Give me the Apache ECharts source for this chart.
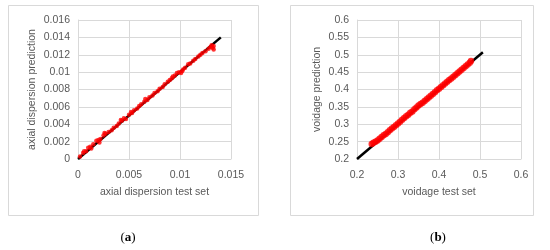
<!DOCTYPE html>
<html>
<head>
<meta charset="utf-8">
<script src="https://cdn.jsdelivr.net/npm/echarts@6/dist/echarts.min.js"></script>
<style>
html, body { margin: 0; padding: 0; background: #fff; }
#chart { width: 550px; height: 250px; }
</style>
</head>
<body>
<div id="chart"></div>
<script>
// panel (a): axial dispersion, test set vs prediction
var axialPoints = [
    [0.0002,0.0003],[0.0005,0.0007],[0.0006,0.0009],[0.0008,0.0009],[0.001,0.0013],[0.0012,0.0014],
    [0.0013,0.0012],[0.0015,0.0017],[0.0018,0.0021],[0.002,0.0022],[0.0021,0.0019],[0.0022,0.0023],
    [0.0025,0.0027],[0.0026,0.003],[0.0027,0.0029],[0.003,0.0031],[0.0033,0.0033],[0.0035,0.0036],
    [0.0038,0.0038],[0.004,0.0041],[0.0042,0.0045],[0.0043,0.0044],[0.0045,0.0047],[0.0047,0.0046],
    [0.005,0.0051],[0.0052,0.0054],[0.0053,0.0053],[0.0055,0.0056],[0.0058,0.0058],[0.006,0.0061],
    [0.0062,0.0063],[0.0065,0.0066],[0.0066,0.0069],[0.0068,0.0068],[0.007,0.0071],[0.0073,0.0073],
    [0.0075,0.0076],[0.0078,0.0078],[0.008,0.0081],[0.0083,0.0083],[0.0085,0.0086],[0.0088,0.0089],
    [0.009,0.0091],[0.0092,0.0093],[0.0093,0.0095],[0.0095,0.0096],[0.0097,0.0099],[0.0099,0.01],
    [0.0101,0.0099],[0.0102,0.0101],[0.0103,0.0103],[0.0105,0.0105],[0.0108,0.0109],[0.011,0.011],
    [0.0113,0.0113],[0.0115,0.0115],[0.0118,0.0118],[0.012,0.012],[0.0122,0.0122],[0.0125,0.0124],
    [0.0128,0.0127],[0.013,0.0129],[0.0132,0.0128],[0.0133,0.0126],[0.0131,0.0131],[0.0133,0.013]
];
var axialLine = [[0, 0], [0.014, 0.014]];
var axialXTicks = [0, 0.005, 0.01, 0.015];
var axialYTicks = [0, 0.002, 0.004, 0.006, 0.008, 0.01, 0.012, 0.014, 0.016];

// panel (b): voidage, test set vs prediction
var voidagePoints = [
    [0.236,0.243],[0.24,0.247],[0.245,0.25],[0.25,0.253],[0.255,0.258],[0.26,0.263],
    [0.265,0.268],[0.27,0.272],[0.275,0.277],[0.28,0.283],[0.285,0.288],[0.29,0.292],
    [0.295,0.297],[0.3,0.302],[0.305,0.307],[0.31,0.313],[0.315,0.318],[0.32,0.323],
    [0.325,0.327],[0.33,0.333],[0.335,0.337],[0.34,0.343],[0.345,0.348],[0.35,0.354],
    [0.355,0.358],[0.36,0.362],[0.365,0.367],[0.37,0.372],[0.375,0.377],[0.38,0.382],
    [0.385,0.387],[0.39,0.392],[0.395,0.398],[0.4,0.402],[0.405,0.407],[0.41,0.412],
    [0.415,0.417],[0.42,0.422],[0.425,0.427],[0.43,0.432],[0.435,0.437],[0.44,0.442],
    [0.445,0.447],[0.45,0.452],[0.455,0.457],[0.46,0.462],[0.465,0.467],[0.47,0.472],
    [0.475,0.477],[0.478,0.482]
];
var voidageLine = [[0.2, 0.2], [0.507, 0.507]];
var voidageXTicks = [0.2, 0.3, 0.4, 0.5, 0.6];
var voidageYTicks = [0.2, 0.25, 0.3, 0.35, 0.4, 0.45, 0.5, 0.55, 0.6];

var grey = '#595959';
var gridGrey = '#d9d9d9';
var font = 'Liberation Sans';

function valueAxis(idx, ticks, name, gap, isY) {
    return {
        type: 'value',
        gridIndex: idx,
        min: ticks[0],
        max: ticks[ticks.length - 1],
        interval: ticks[1] - ticks[0],
        name: name,
        nameLocation: 'middle',
        nameGap: gap,
        nameTextStyle: { color: grey, fontFamily: font, fontSize: 10.5 },
        axisLine: { show: true, lineStyle: { color: gridGrey } },
        axisTick: { show: false },
        axisLabel: {
            color: grey, fontFamily: font, fontSize: 10.5, margin: isY ? 8 : 11,
            formatter: function (v) { return String(+v.toFixed(4)); }
        },
        splitLine: { show: true, lineStyle: { color: gridGrey } }
    };
}

var chart = echarts.init(document.getElementById('chart'));
var option = {
    animation: false,
    backgroundColor: '#fff',
    grid: [
        { left: 78, top: 20, width: 153, height: 139 },
        { left: 357, top: 20, width: 164, height: 139 }
    ],
    xAxis: [
        valueAxis(0, axialXTicks, 'axial dispersion test set', 28, false),
        valueAxis(1, voidageXTicks, 'voidage test set', 28, false)
    ],
    yAxis: [
        valueAxis(0, axialYTicks, 'axial dispersion prediction', 40, true),
        valueAxis(1, voidageYTicks, 'voidage prediction', 34, true)
    ],
    graphic: [
        { type: 'rect', shape: { x: 8.5, y: 5.5, width: 250, height: 210 },
          style: { fill: 'none', stroke: gridGrey, lineWidth: 1 } },
        { type: 'rect', shape: { x: 290.5, y: 5.5, width: 243, height: 210 },
          style: { fill: 'none', stroke: gridGrey, lineWidth: 1 } },
        { type: 'text', x: 128, y: 238,
          style: { text: '{n|(}{b|a}{n|)}', align: 'center', verticalAlign: 'middle',
                   rich: { n: { fontFamily: 'Liberation Serif', fontSize: 13, fill: '#000' },
                           b: { fontFamily: 'Liberation Serif', fontSize: 13, fontWeight: 'bold', fill: '#000' } } } },
        { type: 'text', x: 438, y: 238,
          style: { text: '{n|(}{b|b}{n|)}', align: 'center', verticalAlign: 'middle',
                   rich: { n: { fontFamily: 'Liberation Serif', fontSize: 13, fill: '#000' },
                           b: { fontFamily: 'Liberation Serif', fontSize: 13, fontWeight: 'bold', fill: '#000' } } } }
    ],
    series: [
        { type: 'line', xAxisIndex: 0, yAxisIndex: 0, data: axialLine, symbol: 'none',
          lineStyle: { color: '#000', width: 2.5 }, z: 2 },
        { type: 'scatter', xAxisIndex: 0, yAxisIndex: 0, data: axialPoints, symbol: 'circle',
          symbolSize: 4.5, itemStyle: { color: '#ff0000' }, z: 3 },
        { type: 'line', xAxisIndex: 1, yAxisIndex: 1, data: voidageLine, symbol: 'none',
          lineStyle: { color: '#000', width: 2.5 }, z: 2 },
        { type: 'scatter', xAxisIndex: 1, yAxisIndex: 1, data: voidagePoints, symbol: 'circle',
          symbolSize: 6.5, itemStyle: { color: '#ff0000' }, z: 3 }
    ]
};
chart.setOption(option);
</script>
</body>
</html>
